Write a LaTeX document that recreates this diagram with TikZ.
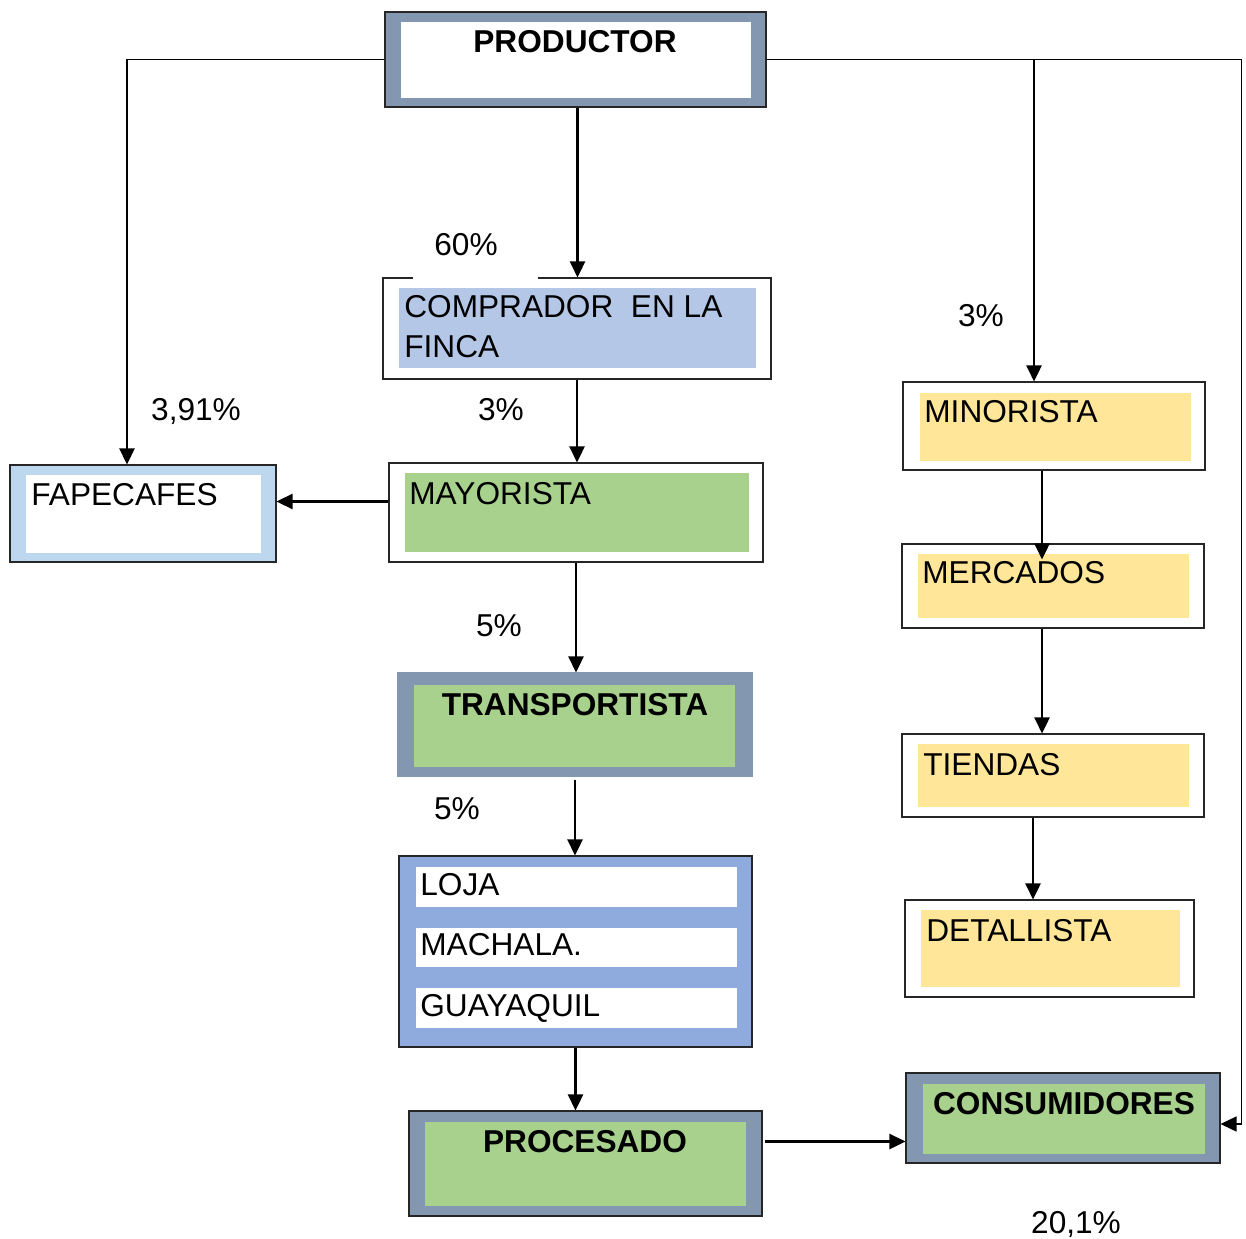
\documentclass[tikz,border=0pt]{standalone}
\usepackage{fontspec}
\setmainfont{Liberation Sans}
\usetikzlibrary{fit,calc,arrows.meta}
\definecolor{marco}{HTML}{8497B0}
\definecolor{verde}{HTML}{A9D18E}
\definecolor{amarillo}{HTML}{FFE699}
\definecolor{lila}{HTML}{B4C7E7}
\definecolor{celeste}{HTML}{BDD7EE}
\definecolor{azul}{HTML}{8FAADC}
\tikzset{
  caja/.style={draw=black!85, line width=0.6pt, inner sep=0pt},
  fondo/.style={inner sep=0pt},
  texto/.style={inner sep=0pt, font=\fontsize{18}{23}\selectfont},
  titulo/.style={texto, font=\fontsize{18}{23}\selectfont\bfseries},
  flecha/.style={-{Triangle[length=0.32cm,width=0.3cm]}, line width=1.4pt},
  ruta/.style={line width=0.7pt}
}
\begin{document}
\begin{tikzpicture}[x=0.02cm,y=-0.02cm]
\useasboundingbox (0,0) rectangle (1246,1239);
% cajas
\node[caja, fill=marco, fit={(385,12) (766,107)}] (prod) {};
\node[fondo, fill=white, fit={(401,22) (751,98)}] {};
\node[titulo, anchor=base] at (575,53) {PRODUCTOR};

\node[caja, fill=white, fit={(383,278) (771,379)}] (comp) {};
\node[fondo, fill=lila, fit={(399,288) (756,368)}] {};
\node[texto, anchor=base west] at (404,318) {COMPRADOR\ \ EN LA};
\node[texto, anchor=base west] at (404,358) {FINCA};

\node[caja, fill=celeste, fit={(10,465) (276,562)}] (fape) {};
\node[fondo, fill=white, fit={(26,475) (261,553)}] {};
\node[texto, anchor=base west] at (31,505) {FAPECAFES};

\node[caja, fill=white, fit={(389,463) (763,562)}] (mayo) {};
\node[fondo, fill=verde, fit={(405,473) (749,552)}] {};
\node[texto, anchor=base west] at (409,504) {MAYORISTA};

\node[caja, draw=marco, fill=marco, fit={(398,673) (752,776)}] (trans) {};
\node[fondo, fill=verde, fit={(414,685) (735,767)}] {};
\node[titulo, anchor=base] at (575,715) {TRANSPORTISTA};

\node[caja, fill=azul, fit={(399,856) (752,1047)}] (loja) {};
\foreach \ya/\yb/\ciudad in {867/907/LOJA, 928/967/MACHALA., 988/1028/GUAYAQUIL}{
  \node[fondo, fill=white, fit={(416,\ya) (737,\yb)}] {};
  \node[texto, anchor=base west] at (420,\yb-12) {\ciudad};
}

\node[caja, fill=marco, fit={(409,1111) (762,1216)}] (proc) {};
\node[fondo, fill=verde, fit={(425,1122) (746,1206)}] {};
\node[titulo, anchor=base] at (585,1152) {PROCESADO};

\node[caja, fill=marco, fit={(906,1073) (1220,1163)}] (cons) {};
\node[fondo, fill=verde, fit={(923,1084) (1205,1154)}] {};
\node[titulo, anchor=base] at (1064,1114) {CONSUMIDORES};

\node[caja, fill=white, fit={(903,382) (1205,470)}] (mino) {};
\node[fondo, fill=amarillo, fit={(920,393) (1191,461)}] {};
\node[texto, anchor=base west] at (924,423) {MINORISTA};

\node[caja, fill=white, fit={(902,544) (1204,628)}] (merc) {};
\node[fondo, fill=amarillo, fit={(918,554) (1189,618)}] {};
\node[texto, anchor=base west] at (922,583) {MERCADOS};

\node[caja, fill=white, fit={(902,734) (1204,817)}] (tien) {};
\node[fondo, fill=amarillo, fit={(918,744) (1189,807)}] {};
\node[texto, anchor=base west] at (923,775) {TIENDAS};

\node[caja, fill=white, fit={(905,900) (1194,997)}] (deta) {};
\node[fondo, fill=amarillo, fit={(921,910) (1180,987)}] {};
\node[texto, anchor=base west] at (926,941) {DETALLISTA};

% porcentajes
\node[fondo, fill=white, fit={(413,225) (538,280)}] (hueco) {};
\node[texto, anchor=base] at (466,256) {60\%};
\node[texto, anchor=base] at (501,421) {3\%};
\node[texto, anchor=base] at (196,421) {3,91\%};
\node[texto, anchor=base] at (981,327) {3\%};
\node[texto, anchor=base] at (499,636) {5\%};
\node[texto, anchor=base] at (457,819) {5\%};
\node[texto, anchor=base] at (1076,1233) {20,1\%};

% flechas
\coordinate (fapein) at ($(fape.north)+(-16,0)$);
\coordinate (minoin) at ($(mino.north)+(-20,0)$);
\coordinate (consin) at ($(cons.east)+(0,6)$);
\draw[ruta] (prod.west) -- (prod.west -| fapein);
\draw[flecha] (prod.west -| fapein) -- (fapein);
\draw[ruta] (prod.east) -- ++(475,0) coordinate (esq) -- (esq |- consin);
\draw[flecha, line width=0.9pt] (esq |- consin) -- (consin);
\draw[flecha] (minoin |- prod.east) -- (minoin);
\draw[flecha] ($(prod.south)+(2,0)$) -- ($(prod.south |- comp.north)+(2,0)$);
\draw[flecha] (comp.south) -- (comp.south |- mayo.north);
\draw[flecha] ($(mayo.west)+(0,-11)$) -- ($(mayo.west -| fape.east)+(0,-11)$);
\draw[flecha] (mayo.south) -- (mayo.south |- trans.north);
\draw[flecha] ($(trans.south)+(0,3)$) -- (trans.south |- loja.north);
\draw[flecha] (loja.south) -- (loja.south |- proc.north);
\draw[flecha] ($(proc.east)+(2,-22)$) -- ($(proc.east -| cons.west)+(0,-22)$);
\draw[flecha] ($(mino.south)+(-12,0)$) -- ($(mino.south |- merc.north)+(-12,16)$);
\draw[flecha] ($(merc.south)+(-11,0)$) -- ($(merc.south |- tien.north)+(-11,0)$);
\draw[flecha] ($(tien.south)+(-20,0)$) -- ($(tien.south |- deta.north)+(-20,0)$);
\end{tikzpicture}
\end{document}
